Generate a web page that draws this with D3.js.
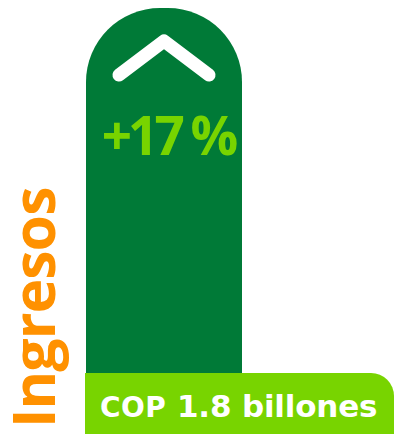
<!DOCTYPE html>
<html><head><meta charset="utf-8">
<script src="https://cdn.jsdelivr.net/npm/d3@7"></script>
<style>html,body{margin:0;padding:0;background:#fff;}svg{display:block;}</style>
</head><body>
<script>
const categories = ["Ingresos"];
const values = [1.8];
const growth = ["+17 %"];
const currency = ["COP"];
const valueLabels = ["1.8 billones"];

const W = 394, H = 434;
const svg = d3.select("body").append("svg").attr("width", W).attr("height", H);

const x = d3.scaleBand().domain(categories).range([86, 242]).padding(0);
const y = d3.scaleLinear().domain([0, 1.8]).range([373, 8]);

const dark = "#007a37", light = "#78d400", orange = "#ff9100";

categories.forEach((c, i) => {
  const x0 = x(c), x1 = x(c) + x.bandwidth(), yt = y(values[i]), yb = y(0);
  const r = 74;
  const p = d3.path();
  p.moveTo(x0, yb);
  p.lineTo(x0, yt + r);
  p.arcTo(x0, yt, x0 + r, yt, r);
  p.lineTo(x1 - r, yt);
  p.arcTo(x1, yt, x1, yt + r, r);
  p.lineTo(x1, yb);
  p.closePath();
  svg.append("path").attr("d", p.toString()).attr("fill", dark);

  // chevron
  const cx = x0 + x.bandwidth() / 2;
  svg.append("polyline")
    .attr("points", `${cx-45},${yt+67} ${cx},${yt+33} ${cx+45},${yt+67}`)
    .attr("fill", "none").attr("stroke", "#fff").attr("stroke-width", 13)
    .attr("stroke-linecap", "round").attr("stroke-linejoin", "round");

  // growth label
  svg.append("text").attr("x", cx + 4).attr("y", 155)
    .attr("text-anchor", "middle")
    .attr("font-family", "Open Sans").attr("font-weight", 700)
    .attr("font-size", 53).attr("letter-spacing", -4)
    .attr("fill", light).text(growth[i]);

  // bottom band
  const bx0 = x0 - 1, by0 = yb, bx1 = W, by1 = H, br = 23;
  const q = d3.path();
  q.moveTo(bx0, by1);
  q.lineTo(bx0, by0);
  q.lineTo(bx1 - br, by0);
  q.arcTo(bx1, by0, bx1, by0 + br, br);
  q.lineTo(bx1, by1);
  q.closePath();
  svg.append("path").attr("d", q.toString()).attr("fill", light);

  svg.append("text").attr("x", 100).attr("y", 417)
    .attr("font-family", "DejaVu Sans").attr("font-weight", 700)
    .attr("fill", "#fff").attr("font-size", 28).attr("letter-spacing", 0.5).text(currency[i]);
  svg.append("text").attr("x", 177).attr("y", 417)
    .attr("font-family", "DejaVu Sans").attr("font-weight", 700)
    .attr("fill", "#fff").attr("font-size", 31).attr("letter-spacing", -0.2)
    .text(valueLabels[i]);

  // category label vertical
  svg.append("text").attr("transform", `translate(55,428) rotate(-90)`)
    .attr("font-family", "Open Sans").attr("font-weight", 700)
    .attr("font-size", 59).attr("fill", orange).attr("letter-spacing", -1)
    .text(c);
});
</script>
</body></html>
